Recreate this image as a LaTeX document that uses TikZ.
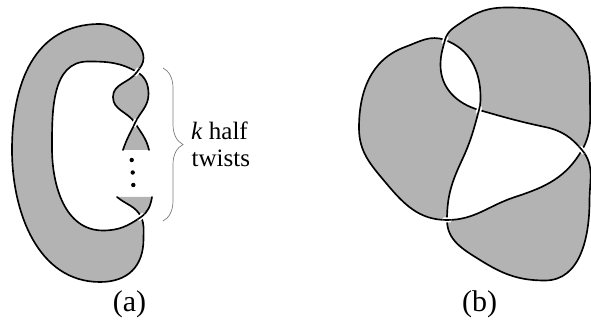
\documentclass[tikz,border=0pt]{standalone}
\usepackage{fontspec}
\setmainfont{Liberation Serif}
\newfontfamily\KnSerif{Liberation Serif}
\usetikzlibrary{decorations.pathreplacing}
\definecolor{knotgray}{RGB}{179,179,179}
\definecolor{bracegray}{RGB}{125,125,125}
\tikzset{
  strand/.style={line width=1.65pt, line cap=round, line join=round},
  gapline/.style={white, line width=5pt},
  bandfill/.style={fill=knotgray},
  dotn/.style={circle, fill=black, inner sep=0pt, minimum size=4.4pt},
  lbl/.style={font=\KnSerif\fontsize{30}{34}\selectfont, inner sep=0pt, anchor=base},
  twtext/.style={font=\KnSerif\fontsize{25}{29}\selectfont, inner sep=0pt, anchor=base west},
  bracestyle/.style={draw=bracegray, line width=0.7pt, decorate, decoration={brace, amplitude=20pt}}
}
\begin{document}
\begin{tikzpicture}[x=1pt,y=1pt]
\useasboundingbox (0,0) rectangle (591,323);
% ---------- (a) ----------
\coordinate (X1) at (137,251);
\coordinate (X2) at (135,200);
\coordinate (X3) at (141,106);
\coordinate (T1) at (117,126);
\coordinate (T2) at (152,126);
\coordinate (B1) at (149,173);
\coordinate (B2) at (123,173);
\def\KnAa{to[out=-40,in=115] (X3)}
\def\KnAb{to[out=-65,in=90] (143.5,84) to[out=-90,in=0,looseness=1.15] (100,41) to[out=180,in=-90] (12,173) to[out=90,in=180,looseness=1.1] (100,299) to[out=0,in=90,looseness=0.8] (143.5,265) to[out=-90,in=55] (X1)}
\def\KnAc{to[out=-125,in=90] (113,226) to[out=-90,in=122] (X2)}
\def\KnAd{to[out=-58,in=103] (B1)}
\def\KnBa{to[out=72,in=-115] (X2)}
\def\KnBb{to[out=65,in=-90] (148.5,229) to[out=90,in=-30] (X1)}
\def\KnBc{to[out=150,in=0] (88,261.5) to[out=180,in=90] (52,175) to[out=-90,in=180] (103,92.5) to[out=0,in=-145] (X3)}
\def\KnBd{to[out=35,in=-100] (T2)}
% fills
\fill[bandfill] (X3) \KnAb \KnBc -- cycle;
\fill[bandfill] (X1) \KnAc \KnBb -- cycle;
\fill[bandfill] (X2) \KnAd -- (B2) \KnBa -- cycle;
\fill[bandfill] (T1) \KnAa \KnBd -- cycle;
% strands
\draw[strand] (T1) \KnAa \KnAb \KnAc \KnAd;
\draw[strand] (B2) \KnBa \KnBb \KnBc \KnBd;
% crossings
\begin{scope}
  \clip (X1) circle (4.5);
  \draw[gapline] (T1) \KnAa \KnAb \KnAc \KnAd;
  \draw[strand] (T1) \KnAa \KnAb \KnAc \KnAd;
\end{scope}
\begin{scope}
  \clip (X2) circle (4.5);
  \draw[gapline] (B2) \KnBa \KnBb \KnBc \KnBd;
  \draw[strand] (B2) \KnBa \KnBb \KnBc \KnBd;
\end{scope}
\begin{scope}
  \clip (X3) circle (4.5);
  \draw[gapline] (B2) \KnBa \KnBb \KnBc \KnBd;
  \draw[strand] (B2) \KnBa \KnBb \KnBc \KnBd;
\end{scope}
% dots
\node[dotn] (d1) at (131.7,163) {};
\node[dotn] (d2) at (132.7,150.5) {};
\node[dotn] (d3) at (133.3,138) {};
% brace and text
\coordinate (bt) at (163,255);
\coordinate (bb) at (163,102);
\draw[bracestyle] (bt) -- (bb);
\node[twtext] (tk) at (191,183) {\textit{k} half};
\node[twtext] (tt) at (191.5,156.3) {twists};
\node[lbl] (la) at (129.5,11.5) {(a)};
% ---------- (b) ----------
\coordinate (C1) at (445,283);
\coordinate (C2) at (479,213);
\coordinate (C3) at (582,173);
\coordinate (C4) at (447,103);
\def\KnQa{to[out=-105,in=90] (440.5,258) to[out=-90,in=164] (C2)}
\def\KnQaR{to[out=164,in=-90] (440.5,258) to[out=90,in=-105] (C1)}
\def\KnQb{to[out=-16,in=168] (545,196) to[out=-12,in=130] (C3)}
\def\KnQc{to[out=-50,in=90] (589.5,122) to[out=-90,in=0] (545,42.5) to[out=180,in=-32] (480,63) to[out=148,in=-90] (C4)}
\def\KnQd{to[out=90,in=-115] (462,163) to[out=65,in=-105] (C2)}
\def\KnQe{to[out=75,in=-90] (480.5,226) to[out=90,in=-20] (C1)}
\def\KnQeR{to[out=-20,in=90] (480.5,226) to[out=-90,in=75] (C2)}
\def\KnQf{to[out=160,in=20] (405,276) to[out=200,in=90] (359,195) to[out=-90,in=130] (386,140) to[out=-50,in=180] (C4)}
\def\KnQg{to[out=0,in=198] (515,126) to[out=18,in=-120] (C3)}
\def\KnQh{to[out=60,in=-90] (590,225) to[out=90,in=-55] (576,289) to[out=125,in=0] (507,315.5) to[out=180,in=35] (462,301) to[out=215,in=75] (C1)}
% fills
\fill[bandfill] (C1) \KnQf \KnQd \KnQaR -- cycle;
\fill[bandfill] (C2) \KnQb \KnQh \KnQeR -- cycle;
\fill[bandfill] (C3) \KnQc \KnQg -- cycle;
% strand
\draw[strand] (C1) \KnQa \KnQb \KnQc \KnQd \KnQe \KnQf \KnQg \KnQh;
% crossings
\begin{scope}
  \clip (C1) circle (4.5);
  \draw[gapline] (C3) \KnQh \KnQa;
  \draw[strand] (C3) \KnQh \KnQa;
\end{scope}
\begin{scope}
  \clip (C2) circle (4.5);
  \draw[gapline] (C4) \KnQd \KnQe;
  \draw[strand] (C4) \KnQd \KnQe;
\end{scope}
\begin{scope}
  \clip (C3) circle (4.5);
  \draw[gapline] (C2) \KnQb \KnQc;
  \draw[strand] (C2) \KnQb \KnQc;
\end{scope}
\begin{scope}
  \clip (C4) circle (4.5);
  \draw[gapline] (C1) \KnQf \KnQg;
  \draw[strand] (C1) \KnQf \KnQg;
\end{scope}
\node[lbl] (lb) at (479.5,11.5) {(b)};
\end{tikzpicture}
\end{document}
